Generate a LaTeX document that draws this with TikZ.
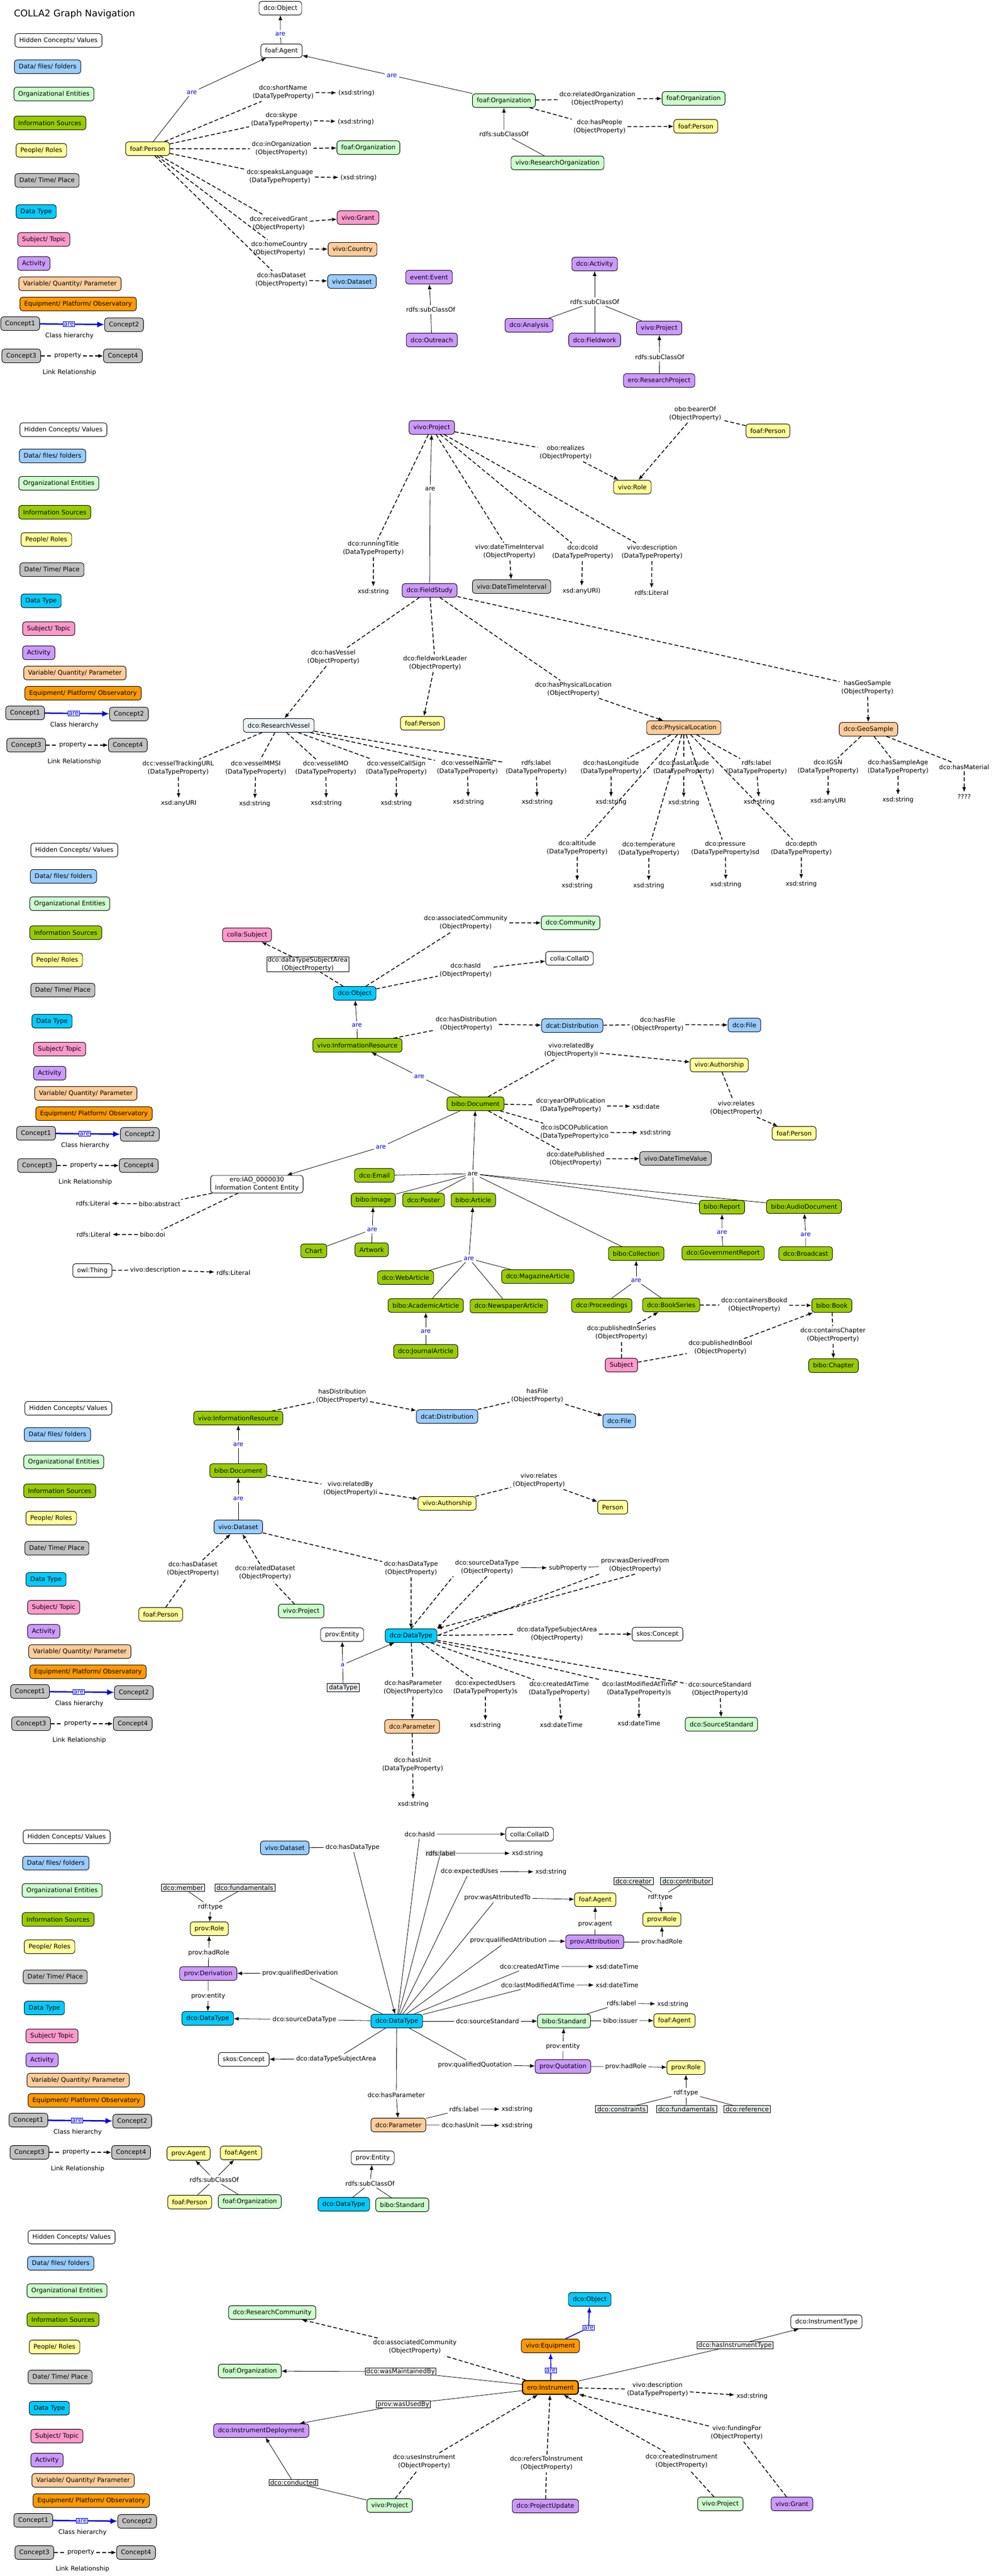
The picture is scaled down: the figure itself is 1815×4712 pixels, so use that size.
\documentclass[tikz,border=0pt]{standalone}
\usepackage{fontspec}
\setmainfont{DejaVu Sans}
\usepackage{tikz}
\usetikzlibrary{
  calc,
  positioning,
  arrows.meta,
  shapes
}
\tikzset{>={Latex[length=9pt,width=7pt]}}
\definecolor{filec}{RGB}{153,204,255}
\definecolor{orgc}{RGB}{204,255,204}
\definecolor{infoc}{RGB}{153,204,0}
\definecolor{peoplec}{RGB}{255,255,153}
\definecolor{datec}{RGB}{192,192,192}
\definecolor{dtypec}{RGB}{0,204,255}
\definecolor{subjc}{RGB}{255,153,204}
\definecolor{actc}{RGB}{204,153,255}
\definecolor{paramc}{RGB}{255,204,153}
\definecolor{equipc}{RGB}{255,153,0}
\definecolor{litec}{RGB}{236,243,246}
\definecolor{areblue}{RGB}{0,0,230}
% colour key, repeated beside every view
\newcommand{\legendblock}[3]{%
  \begin{scope}[shift={(#2,#3)}]
    \node[entity, anchor=west] (#1_hidden) at (27,74) {Hidden Concepts/ Values};
    \node[entity, fill=filec, anchor=west] (#1_files) at (26,122) {Data/ files/ folders};
    \node[entity, fill=orgc, anchor=west] (#1_orgs) at (25,172) {Organizational Entities};
    \node[entity, fill=infoc, anchor=west] (#1_info) at (25,225) {Information Sources};
    \node[entity, fill=peoplec, anchor=west] (#1_people) at (29,275) {People/ Roles};
    \node[entity, fill=datec, anchor=west] (#1_date) at (27,330) {Date/ Time/ Place};
    \node[entity, fill=dtypec, anchor=west] (#1_dtype) at (29,387) {Data Type};
    \node[entity, fill=subjc, anchor=west] (#1_subject) at (32,438) {Subject/ Topic};
    \node[entity, fill=actc, anchor=west] (#1_activity) at (32,482) {Activity};
    \node[entity, fill=paramc, anchor=west] (#1_param) at (34,519) {Variable/ Quantity/ Parameter};
    \node[entity, fill=equipc, anchor=west] (#1_equip) at (36,556) {Equipment/ Platform/ Observatory};
    \node[entity, fill=datec, anchor=west] (#1_c1) at (1,592) {Concept1};
    \node[entity, fill=datec, anchor=west] (#1_c2) at (191,594) {Concept2};
    \draw[hier] (#1_c1) -- (#1_c2) node[aretag, pos=0.45] (#1_are) {are};
    \node (#1_hier_txt) at (127,614) {Class hierarchy};
    \node[entity, fill=datec, anchor=west] (#1_c3) at (3,651) {Concept3};
    \node[entity, fill=datec, anchor=west] (#1_c4) at (189,651) {Concept4};
    \node (#1_prop) at (124,651) {property};
    \draw[property, ->] (#1_c3) -- (#1_prop) -- (#1_c4);
    \node (#1_link_txt) at (127,681) {Link Relationship};
  \end{scope}}

\begin{document}
\begin{tikzpicture}[x=1pt, y=-1pt,
  font=\fontsize{11.5}{14.5}\selectfont,
  entity/.style = {rectangle, rounded corners=5pt, draw, line width=0.9pt, fill=white, minimum height=25pt, inner xsep=8pt, align=center},
  lite/.style = {rectangle, draw, line width=0.7pt, fill=litec, inner xsep=3pt, inner ysep=2pt},
  boxed_lbl/.style = {rectangle, draw, line width=0.7pt, fill=white, inner xsep=2pt, inner ysep=1pt, align=center},
  aretag/.style = {rectangle, draw=areblue, line width=0.7pt, fill=white, text=areblue, inner sep=1pt},
  isa/.style = {text=areblue},
  plbl/.style = {align=center},
  property/.style = {line width=1.5pt, dash pattern=on 7pt off 4pt},
  subclass/.style = {line width=0.8pt},
  hier/.style = {draw=areblue, line width=2.5pt, -{Latex[length=13pt,width=11pt]}},
  bluelink/.style = {draw=areblue, line width=1.6pt, -{Latex[length=11pt,width=8pt]}}
]
\fill[white] (0,0) rectangle (1815,4712);
\useasboundingbox (0,0) rectangle (1815,4712);

% keys
\node[anchor=west, font=\fontsize{17}{20}\selectfont] (title) at (22,26) {COLLA2 Graph Navigation};
\legendblock{s1}{0}{0}
\legendblock{s2}{9}{712}
\legendblock{s3}{29}{1481}
\legendblock{s4}{18}{2502}
\legendblock{s5}{15}{3286}
\legendblock{s6}{24}{4018}

% ---------- agents and activities
\node[entity] (s1_object) at (513,15) {dco:Object};
\node[entity] (s1_agent) at (515,93) {foaf:Agent};
\node[entity, fill=peoplec] (s1_person) at (270,272) {foaf:Person};
\node[entity, fill=orgc] (s1_org) at (922,184) {foaf:Organization};
\node[isa] (s1_are1) at (513,62) {are};
\node[isa] (s1_are2) at (351,169) {are};
\node[isa] (s1_are3) at (717,138) {are};

\node[plbl] (s1_short) at (518,169) {dco:shortName\\(DataTypeProperty)};
\node (s1_v1) at (652,170) {(xsd:string)};
\node[plbl] (s1_skype) at (515,219) {dco:skype\\(DataTypeProperty)};
\node (s1_v2) at (651,223) {(xsd:string)};
\node[plbl] (s1_inorg) at (515,272) {dco:inOrganization\\(ObjectProperty)};
\node[entity, fill=orgc] (s1_org2) at (674,270) {foaf:Organization};
\node[plbl] (s1_lang) at (512,323) {dco:speaksLanguage\\(DataTypeProperty)};
\node (s1_v3) at (656,325) {(xsd:string)};
\node[plbl] (s1_grant) at (510,409) {dco:receivedGrant\\(ObjectProperty)};
\node[entity, fill=subjc] (s1_grant_box) at (655,398) {vivo:Grant};
\node[plbl] (s1_country) at (511,455) {dco:homeCountry\\(ObjectProperty)};
\node[entity, fill=paramc] (s1_country_box) at (645,456) {vivo:Country};
\node[plbl] (s1_dataset) at (515,512) {dco:hasDataset\\(ObjectProperty)};
\node[entity, fill=filec] (s1_dataset_box) at (644,515) {vivo:Dataset};

\node[plbl] (s1_relorg) at (1093,181) {dco:relatedOrganization\\(ObjectProperty)};
\node[entity, fill=orgc] (s1_org3) at (1269,180) {foaf:Organization};
\node[plbl] (s1_haspeople) at (1097,232) {dco:hasPeople\\(ObjectProperty)};
\node[entity, fill=peoplec] (s1_person2) at (1273,231) {foaf:Person};
\node (s1_sub1) at (922,245) {rdfs:subClassOf};
\node[entity, fill=orgc] (s1_resorg) at (1020,298) {vivo:ResearchOrganization};

\node[entity, fill=actc] (s1_event) at (785,507) {event:Event};
\node (s1_sub2) at (788,566) {rdfs:subClassOf};
\node[entity, fill=actc] (s1_outreach) at (790,622) {dco:Outreach};
\node[entity, fill=actc] (s1_activity) at (1088,483) {dco:Activity};
\node (s1_sub3) at (1088,552) {rdfs:subClassOf};
\node[entity, fill=actc] (s1_analysis) at (968,595) {dco:Analysis};
\node[entity, fill=actc] (s1_fieldwork) at (1088,622) {dco:Fieldwork};
\node[entity, fill=actc] (s1_project) at (1206,600) {vivo:Project};
\node (s1_sub4) at (1207,653) {rdfs:subClassOf};
\node[entity, fill=actc] (s1_resproject) at (1206,696) {ero:ResearchProject};

\draw[subclass, ->] (s1_agent) -- (s1_are1) -- (s1_object);
\draw[subclass, ->] (s1_person) -- (s1_are2) -- (s1_agent);
\draw[subclass, ->] (s1_org) -- (s1_are3) -- (s1_agent);
\draw[property, ->] (s1_person) -- (s1_short) -- (s1_v1);
\draw[property, ->] (s1_person) -- (s1_skype) -- (s1_v2);
\draw[property, ->] (s1_person) -- (s1_inorg) -- (s1_org2);
\draw[property, ->] (s1_person) -- (s1_lang) -- (s1_v3);
\draw[property, ->] (s1_person) -- (s1_grant) -- (s1_grant_box);
\draw[property, ->] (s1_person) -- (s1_country) -- (s1_country_box);
\draw[property, ->] (s1_person) -- (s1_dataset) -- (s1_dataset_box);
\draw[property, ->] (s1_org) -- (s1_relorg) -- (s1_org3);
\draw[property, ->] (s1_org) -- (s1_haspeople) -- (s1_person2);
\draw[subclass, ->] (s1_resorg) -- (s1_sub1) -- (s1_org);
\draw[subclass, ->] (s1_outreach) -- (s1_sub2) -- (s1_event);
\draw[subclass] (s1_analysis) -- (s1_sub3);
\draw[subclass] (s1_fieldwork) -- (s1_sub3);
\draw[subclass] (s1_project) -- (s1_sub3);
\draw[subclass, ->] (s1_sub3) -- (s1_activity);
\draw[subclass, ->] (s1_resproject) -- (s1_sub4) -- (s1_project);

% ---------- projects and field studies
\node[entity, fill=actc] (s2_project) at (790,782) {vivo:Project};
\node[plbl] (s2_realizes) at (1035,828) {obo:realizes\\(ObjectProperty)};
\node[entity, fill=peoplec] (s2_role) at (1157,891) {vivo:Role};
\node[plbl] (s2_bearer) at (1272,757) {obo:bearerOf\\(ObjectProperty)};
\node[entity, fill=peoplec] (s2_person) at (1405,788) {foaf:Person};
\node (s2_are) at (787,894) {are};
\node[entity, fill=actc] (s2_fieldstudy) at (786,1080) {dco:FieldStudy};
\node[plbl] (s2_title) at (683,1003) {dco:runningTitle\\(DataTypeProperty)};
\node (s2_v_title) at (683,1082) {xsd:string};
\node[plbl] (s2_dti) at (932,1009) {vivo:dateTimeInterval\\(ObjectProperty)};
\node[entity, fill=datec] (s2_dti_box) at (936,1073) {vivo:DateTimeInterval};
\node[plbl] (s2_dcoid) at (1066,1010) {dco:dcoId\\(DataTypeProperty)};
\node (s2_v_id) at (1064,1081) {xsd:anyURI)};
\node[plbl] (s2_desc) at (1193,1010) {vivo:description\\(DataTypeProperty)};
\node (s2_v_desc) at (1192,1084) {rdfs:Literal};

\node[plbl] (s2_hasvessel) at (610,1202) {dco:hasVessel\\(ObjectProperty)};
\node[entity, fill=litec] (s2_vessel) at (510,1327) {dco:ResearchVessel};
\node[plbl] (s2_leader) at (796,1213) {dco:fieldworkLeader\\(ObjectProperty)};
\node[entity, fill=peoplec] (s2_leader_box) at (773,1323) {foaf:Person};
\node[plbl] (s2_physloc) at (1049,1261) {dco:hasPhysicalLocation\\(ObjectProperty)};
\node[entity, fill=paramc] (s2_loc) at (1251,1331) {dco:PhysicalLocation};
\node[plbl] (s2_geosample) at (1587,1258) {hasGeoSample\\(ObjectProperty)};
\node[entity, fill=paramc] (s2_geo) at (1589,1334) {dco:GeoSample};

\node[plbl] (s2_track) at (326,1405) {dcc:vesselTrackingURL\\(DataTypeProperty)};
\node (s2_v_track) at (327,1469) {xsd:anyURI};
\node[plbl] (s2_mmsi) at (468,1405) {dco:vesselMMSI\\(DataTypeProperty)};
\node (s2_v_mmsi) at (466,1470) {xsd:string};
\node[plbl] (s2_imo) at (596,1405) {dco:vesselIMO\\(DataTypeProperty)};
\node (s2_v_imo) at (597,1469) {xsd:string};
\node[plbl] (s2_callsign) at (725,1405) {dco:vesselCallSign\\(DataTypeProperty)};
\node (s2_v_callsign) at (725,1469) {xsd:string};
\node[plbl] (s2_vname) at (855,1404) {dco:vesselName\\(DataTypeProperty)};
\node (s2_v_vname) at (857,1467) {xsd:string};
\node[plbl] (s2_vlabel) at (981,1404) {rdfs:label\\(DataTypeProperty)};
\node (s2_v_vlabel) at (983,1467) {xsd:string};

\node[plbl] (s2_long) at (1118,1404) {dco:hasLongitude\\(DataTypeProperty)};
\node (s2_v_long) at (1118,1467) {xsd:string};
\node[plbl] (s2_lat) at (1251,1404) {dco:hasLatitude\\(DataTypeProperty)};
\node (s2_v_lat) at (1251,1468) {xsd:string};
\node[plbl] (s2_llabel) at (1384,1404) {rdfs:label\\(DataTypeProperty)};
\node (s2_v_llabel) at (1389,1467) {xsd:string};
\node[plbl] (s2_alt) at (1056,1551) {dco:altitude\\(DataTypeProperty)};
\node (s2_v_alt) at (1056,1620) {xsd:string};
\node[plbl] (s2_temp) at (1187,1553) {dco:temperature\\(DataTypeProperty)};
\node (s2_v_temp) at (1187,1620) {xsd:string};
\node[plbl] (s2_press) at (1327,1552) {dco:pressure\\(DataTypeProperty)sd};
\node (s2_v_press) at (1328,1618) {xsd:string};
\node[plbl] (s2_depth) at (1466,1552) {dco:depth\\(DataTypeProperty)};
\node (s2_v_depth) at (1466,1617) {xsd:string};

\node[plbl] (s2_igsn) at (1515,1403) {dco:IGSN\\(DataTypeProperty)};
\node (s2_v_igsn) at (1515,1465) {xsd:anyURI};
\node[plbl] (s2_age) at (1643,1403) {dco:hasSampleAge\\(DataTypeProperty)};
\node (s2_v_age) at (1643,1463) {xsd:string};
\node (s2_material) at (1764,1403) {dco:hasMaterial};
\node (s2_v_material) at (1764,1457) {????};

\draw[property, ->] (s2_project) -- (s2_realizes) -- (s2_role);
\draw[property, ->] (s2_person) -- (s2_bearer) -- (s2_role);
\draw[subclass, ->] (s2_fieldstudy) -- (s2_are) -- (s2_project);
\draw[property, ->] (s2_project) -- (s2_title) -- (s2_v_title);
\draw[property, ->] (s2_project) -- (s2_dti) -- (s2_dti_box);
\draw[property, ->] (s2_project) -- (s2_dcoid) -- (s2_v_id);
\draw[property, ->] (s2_project) -- (s2_desc) -- (s2_v_desc);
\draw[property, ->] (s2_fieldstudy) -- (s2_hasvessel) -- (s2_vessel);
\draw[property, ->] (s2_fieldstudy) -- (s2_leader) -- (s2_leader_box);
\draw[property, ->] (s2_fieldstudy) -- (s2_physloc) -- (s2_loc);
\draw[property, ->] (s2_fieldstudy) -- (s2_geosample) -- (s2_geo);
\draw[property, ->] (s2_vessel) -- (s2_track) -- (s2_v_track);
\draw[property, ->] (s2_vessel) -- (s2_mmsi) -- (s2_v_mmsi);
\draw[property, ->] (s2_vessel) -- (s2_imo) -- (s2_v_imo);
\draw[property, ->] (s2_vessel) -- (s2_callsign) -- (s2_v_callsign);
\draw[property, ->] (s2_vessel) -- (s2_vname) -- (s2_v_vname);
\draw[property, ->] (s2_vessel) -- (s2_vlabel) -- (s2_v_vlabel);
\draw[property, ->] (s2_loc) -- (s2_long) -- (s2_v_long);
\draw[property, ->] (s2_loc) -- (s2_lat) -- (s2_v_lat);
\draw[property, ->] (s2_loc) -- (s2_llabel) -- (s2_v_llabel);
\draw[property, ->] (s2_loc) -- (s2_alt) -- (s2_v_alt);
\draw[property, ->] (s2_loc) -- (s2_temp) -- (s2_v_temp);
\draw[property, ->] (s2_loc) -- (s2_press) -- (s2_v_press);
\draw[property, ->] (s2_loc) -- (s2_depth) -- (s2_v_depth);
\draw[property, ->] (s2_geo) -- (s2_igsn) -- (s2_v_igsn);
\draw[property, ->] (s2_geo) -- (s2_age) -- (s2_v_age);
\draw[property, ->] (s2_geo) -- (s2_material) -- (s2_v_material);

% ---------- objects and documents
\node[entity, fill=dtypec] (s3_object) at (649,1817) {dco:Object};
\node[entity, fill=subjc] (s3_subject) at (452,1710) {colla:Subject};
\node[boxed_lbl] (s3_dtsa) at (563,1764) {dco:dataTypeSubjectArea\\(ObjectProperty)};
\node[plbl] (s3_assoc) at (852,1688) {dco:associatedCommunity\\(ObjectProperty)};
\node[entity, fill=orgc] (s3_community) at (1044,1688) {dco:Community};
\node[plbl] (s3_hasid) at (852,1775) {dco:hasId\\(ObjectProperty)};
\node[entity] (s3_collaid) at (1042,1753) {colla:CollaID};
\node[entity, fill=infoc] (s3_ir) at (654,1912) {vivo:InformationResource};
\node[isa] (s3_are1) at (653,1875) {are};
\node[plbl] (s3_hasdist) at (853,1873) {dco:hasDistribution\\(ObjectProperty)};
\node[entity, fill=filec] (s3_dist) at (1047,1876) {dcat:Distribution};
\node[plbl] (s3_hasfile) at (1203,1874) {dco:hasFile\\(ObjectProperty)};
\node[entity, fill=filec] (s3_file) at (1362,1875) {dco:File};
\node[entity, fill=infoc] (s3_document) at (870,2019) {bibo:Document};
\node[isa] (s3_are2) at (767,1969) {are};
\node[plbl] (s3_relby) at (1045,1921) {vivo:relatedBy\\(ObjectProperty)i};
\node[entity, fill=peoplec] (s3_authorship) at (1316,1948) {vivo:Authorship};
\node[plbl] (s3_relates) at (1347,2027) {vivo:relates\\(ObjectProperty)};
\node[entity, fill=peoplec] (s3_person) at (1453,2073) {foaf:Person};
\node[plbl] (s3_year) at (1044,2022) {dco:yearOfPublication\\(DataTypeProperty)};
\node (s3_v_year) at (1182,2024) {xsd:date};
\node[plbl] (s3_isdco) at (1051,2071) {dco:isDCOPublication\\(DataTypeProperty)co};
\node (s3_v_isdco) at (1199,2072) {xsd:string};
\node[plbl] (s3_datepub) at (1053,2120) {dco:datePublished\\(ObjectProperty)};
\node[entity, fill=datec] (s3_datevalue) at (1236,2119) {vivo:DateTimeValue};
\node[entity] (s3_iao) at (470,2166) {ero:IAO\_0000030\\Information Content Entity};
\node[isa] (s3_are3) at (697,2098) {are};
\node (s3_abstract) at (292,2202) {bibo:abstract};
\node (s3_lit1) at (170,2201) {rdfs:Literal};
\node (s3_doi) at (279,2258) {bibo:doi};
\node (s3_lit2) at (171,2258) {rdfs:Literal};
\node[entity] (s3_thing) at (169,2324) {owl:Thing};
\node (s3_desc) at (284,2323) {vivo:description};
\node (s3_lit3) at (427,2328) {rdfs:Literal};

\node (s3_hub) at (865,2147) {are};
\node[entity, fill=infoc] (s3_email) at (685,2150) {dco:Email};
\node[entity, fill=infoc] (s3_image) at (683,2195) {bibo:Image};
\node[entity, fill=infoc] (s3_poster) at (775,2195) {dco:Poster};
\node[entity, fill=infoc] (s3_article) at (866,2195) {bibo:Article};
\node[entity, fill=infoc] (s3_collection) at (1164,2293) {bibo:Collection};
\node[entity, fill=infoc] (s3_report) at (1321,2208) {bibo:Report};
\node[entity, fill=infoc] (s3_audio) at (1471,2207) {bibo:AudioDocument};
\node[isa] (s3_are4) at (681,2249) {are};
\node[entity, fill=infoc] (s3_chart) at (574,2288) {Chart};
\node[entity, fill=infoc] (s3_artwork) at (680,2286) {Artwork};
\node[isa] (s3_are5) at (858,2302) {are};
\node[entity, fill=infoc] (s3_webart) at (742,2337) {dco:WebArticle};
\node[entity, fill=infoc] (s3_magart) at (984,2335) {dco:MagazineArticle};
\node[entity, fill=infoc] (s3_acadart) at (779,2388) {bibo:AcademicArticle};
\node[entity, fill=infoc] (s3_newsart) at (931,2389) {dco:NewspaperArticle};
\node[isa] (s3_are6) at (779,2435) {are};
\node[entity, fill=infoc] (s3_journal) at (779,2472) {dco:JournalArticle};
\node[isa] (s3_are7) at (1164,2342) {are};
\node[entity, fill=infoc] (s3_proc) at (1101,2388) {dco:Proceedings};
\node[entity, fill=infoc] (s3_bookseries) at (1228,2387) {dco:BookSeries};
\node[isa] (s3_are8) at (1321,2254) {are};
\node[entity, fill=infoc] (s3_govreport) at (1323,2292) {dco:GovernmentReport};
\node[isa] (s3_are9) at (1474,2258) {are};
\node[entity, fill=infoc] (s3_broadcast) at (1474,2293) {dco:Broadcast};
\node[plbl] (s3_contbook) at (1380,2387) {dco:containersBookd\\(ObjectProperty)};
\node[entity, fill=infoc] (s3_book) at (1522,2388) {bibo:Book};
\node[plbl] (s3_contchap) at (1524,2442) {dco:containsChapter\\(ObjectProperty)};
\node[entity, fill=infoc] (s3_chapter) at (1525,2498) {bibo:Chapter};
\node[entity, fill=subjc] (s3_subject2) at (1137,2497) {Subject};
\node[plbl] (s3_pubseries) at (1137,2438) {dco:publishedInSeries\\(ObjectProperty)};
\node[plbl] (s3_pubbook) at (1318,2465) {dco:publishedInBool\\(ObjectProperty)};

\draw[property, ->] (s3_object) -- (s3_dtsa) -- (s3_subject);
\draw[property, ->] (s3_object) -- (s3_assoc) -- (s3_community);
\draw[property, ->] (s3_object) -- (s3_hasid) -- (s3_collaid);
\draw[subclass, ->] (s3_ir) -- (s3_are1) -- (s3_object);
\draw[property, ->] (s3_ir) -- (s3_hasdist) -- (s3_dist);
\draw[property, ->] (s3_dist) -- (s3_hasfile) -- (s3_file);
\draw[subclass, ->] (s3_document) -- (s3_are2) -- (s3_ir);
\draw[property, ->] (s3_document) -- (s3_relby) -- (s3_authorship);
\draw[property, ->] (s3_authorship) -- (s3_relates) -- (s3_person);
\draw[property, ->] (s3_document) -- (s3_year) -- (s3_v_year);
\draw[property, ->] (s3_document) -- (s3_isdco) -- (s3_v_isdco);
\draw[property, ->] (s3_document) -- (s3_datepub) -- (s3_datevalue);
\draw[subclass, ->] (s3_document) -- (s3_are3) -- (s3_iao);
\draw[property, ->] (s3_iao) -- (s3_abstract) -- (s3_lit1);
\draw[property, ->] (s3_iao) -- (s3_doi) -- (s3_lit2);
\draw[property, ->] (s3_thing) -- (s3_desc) -- (s3_lit3);
\draw[subclass, ->] (s3_hub) -- (s3_document);
\draw[subclass] (s3_email) -- (s3_hub);
\draw[subclass] (s3_image) -- (s3_hub);
\draw[subclass] (s3_poster) -- (s3_hub);
\draw[subclass] (s3_article) -- (s3_hub);
\draw[subclass] (s3_collection) -- (s3_hub);
\draw[subclass] (s3_report) -- (s3_hub);
\draw[subclass] (s3_audio) -- (s3_hub);
\draw[subclass] (s3_chart) -- (s3_are4);
\draw[subclass] (s3_artwork) -- (s3_are4);
\draw[subclass, ->] (s3_are4) -- (s3_image);
\draw[subclass] (s3_webart) -- (s3_are5);
\draw[subclass] (s3_magart) -- (s3_are5);
\draw[subclass] (s3_acadart) -- (s3_are5);
\draw[subclass] (s3_newsart) -- (s3_are5);
\draw[subclass, ->] (s3_are5) -- (s3_article);
\draw[subclass, ->] (s3_journal) -- (s3_are6) -- (s3_acadart);
\draw[subclass] (s3_proc) -- (s3_are7);
\draw[subclass] (s3_bookseries) -- (s3_are7);
\draw[subclass, ->] (s3_are7) -- (s3_collection);
\draw[subclass, ->] (s3_govreport) -- (s3_are8) -- (s3_report);
\draw[subclass, ->] (s3_broadcast) -- (s3_are9) -- (s3_audio);
\draw[property, ->] (s3_bookseries) -- (s3_contbook) -- (s3_book);
\draw[property, ->] (s3_book) -- (s3_contchap) -- (s3_chapter);
\draw[property, ->] (s3_subject2) -- (s3_pubseries) -- (s3_bookseries);
\draw[property, ->] (s3_subject2) -- (s3_pubbook) -- (s3_book);

% ---------- datasets and data types
\node[entity, fill=infoc] (s4_ir) at (436,2594) {vivo:InformationResource};
\node[plbl] (s4_hasdist) at (626,2554) {hasDistribution\\(ObjectProperty)};
\node[entity, fill=filec] (s4_dist) at (818,2591) {dcat:Distribution};
\node[plbl] (s4_hasfile) at (983,2553) {hasFile\\(ObjectProperty)};
\node[entity, fill=filec] (s4_file) at (1133,2599) {dco:File};
\node[isa] (s4_are1) at (436,2642) {are};
\node[entity, fill=infoc] (s4_document) at (436,2690) {bibo:Document};
\node[plbl] (s4_relby) at (641,2723) {vivo:relatedBy\\(ObjectProperty)i};
\node[entity, fill=peoplec] (s4_authorship) at (818,2750) {vivo:Authorship};
\node[plbl] (s4_relates) at (986,2708) {vivo:relates\\(ObjectProperty)};
\node[entity, fill=peoplec] (s4_person) at (1121,2757) {Person};
\node[isa] (s4_are2) at (436,2741) {are};
\node[entity, fill=filec] (s4_dataset) at (436,2793) {vivo:Dataset};
\node[plbl] (s4_hasds) at (353,2870) {dco:hasDataset\\(ObjectProperty)};
\node[entity, fill=peoplec] (s4_person2) at (294,2953) {foaf:Person};
\node[plbl] (s4_relds) at (485,2877) {dco:relatedDataset\\(ObjectProperty)};
\node[entity, fill=orgc] (s4_project) at (551,2947) {vivo:Project};
\node[plbl] (s4_hasdt) at (752,2869) {dco:hasDataType\\(ObjectProperty)};
\node[entity, fill=dtypec] (s4_dtype) at (752,2992) {dco:DataType};
\node[plbl] (s4_srcdt) at (891,2867) {dco:sourceDataType\\(ObjectProperty)};
\node (s4_subprop) at (1039,2868) {subProperty};
\node[plbl] (s4_derived) at (1162,2863) {prov:wasDerivedFrom\\(ObjectProperty)};
\node[entity] (s4_entity) at (626,2990) {prov:Entity};
\node[isa] (s4_a) at (627,3045) {a};
\node[lite] (s4_dtlite) at (628,3087) {dataType};
\node[plbl] (s4_dtsa) at (1019,2989) {dco:dataTypeSubjectArea\\(ObjectProperty)};
\node[entity] (s4_skos) at (1203,2989) {skos:Concept};
\node[plbl] (s4_haspar) at (756,3087) {dco:hasParameter\\(ObjectProperty)co};
\node[entity, fill=paramc] (s4_param) at (754,3158) {dco:Parameter};
\node[plbl] (s4_expusers) at (888,3087) {dco:expectedUsers\\(DataTypeProperty)s};
\node (s4_v_users) at (888,3156) {xsd:string};
\node[plbl] (s4_created) at (1023,3089) {dco:createdAtTime\\(DataTypeProperty)};
\node (s4_v_created) at (1027,3155) {xsd:dateTime};
\node[plbl] (s4_modified) at (1169,3089) {dco:lastModifiedAtTime\\(DataTypeProperty)s};
\node (s4_v_modified) at (1169,3152) {xsd:dateTime};
\node[plbl] (s4_srcstd) at (1317,3090) {dco:sourceStandard\\(ObjectProperty)d};
\node[entity, fill=orgc] (s4_stdbox) at (1320,3154) {dco:SourceStandard};
\node[plbl] (s4_hasunit) at (755,3228) {dco:hasUnit\\(DataTypeProperty)};
\node (s4_v_unit) at (756,3300) {xsd:string};

\draw[property, ->] (s4_ir) -- (s4_hasdist) -- (s4_dist);
\draw[property, ->] (s4_dist) -- (s4_hasfile) -- (s4_file);
\draw[subclass, ->] (s4_document) -- (s4_are1) -- (s4_ir);
\draw[property, ->] (s4_document) -- (s4_relby) -- (s4_authorship);
\draw[property, ->] (s4_authorship) -- (s4_relates) -- (s4_person);
\draw[subclass, ->] (s4_dataset) -- (s4_are2) -- (s4_document);
\draw[property, ->] (s4_person2) -- (s4_hasds) -- (s4_dataset);
\draw[property, ->] (s4_project) -- (s4_relds) -- (s4_dataset);
\draw[property, ->] (s4_dataset) -- (s4_hasdt) -- (s4_dtype);
\draw[property] (s4_dtype.north) -- (s4_srcdt.south west);
\draw[property, ->] (s4_srcdt.south) -- (s4_dtype.north east);
\draw[subclass, ->] (s4_srcdt) -- (s4_subprop);
\draw[subclass] (s4_subprop) -- (s4_derived);
\draw[property] (s4_derived.south west) -- (s4_dtype.east);
\draw[property, ->] (s4_derived.south) -- (s4_dtype.north east);
\draw[property, ->] (s4_dtype) -- (s4_dtsa) -- (s4_skos);
\draw[subclass] (s4_dtlite) -- (s4_a);
\draw[subclass, ->] (s4_a) -- (s4_entity);
\draw[subclass, ->] (s4_a) -- (s4_dtype);
\draw[property, ->] (s4_dtype) -- (s4_haspar) -- (s4_param);
\draw[property, ->] (s4_dtype) -- (s4_expusers) -- (s4_v_users);
\draw[property, ->] (s4_dtype) -- (s4_created) -- (s4_v_created);
\draw[property, ->] (s4_dtype) -- (s4_modified) -- (s4_v_modified);
\draw[property, ->] (s4_dtype) -- (s4_srcstd) -- (s4_stdbox);
\draw[property, ->] (s4_param) -- (s4_hasunit) -- (s4_v_unit);

% ---------- data type provenance
\node[entity, fill=filec] (s5_dataset) at (521,3380) {vivo:Dataset};
\node (s5_hasdt) at (645,3379) {dco:hasDataType};
\node[entity, fill=dtypec] (s5_dtype) at (726,3697) {dco:DataType};
\node (s5_hasid) at (768,3355) {dco:hasId};
\node[entity] (s5_collaid) at (969,3355) {colla:CollaID};
\node[fill=gray!30, inner sep=1pt] (s5_label) at (806,3390) {rdfs:label};
\node (s5_v_label) at (965,3390) {xsd:string};
\node (s5_expuses) at (859,3423) {dco:expectedUses};
\node (s5_v_uses) at (1008,3424) {xsd:string};
\node (s5_attrto) at (910,3471) {prov:wasAttributedTo};
\node[entity, fill=peoplec] (s5_agent1) at (1089,3475) {foaf:Agent};
\node (s5_qattr) at (930,3549) {prov:qualifiedAttribution};
\node[entity, fill=actc] (s5_attr) at (1088,3552) {prov:Attribution};
\node (s5_provagent) at (1089,3520) {prov:agent};
\node (s5_hadrole1) at (1211,3552) {prov:hadRole};
\node[entity, fill=peoplec] (s5_role1) at (1211,3511) {prov:Role};
\node[lite] (s5_creator) at (1159,3441) {dco:creator};
\node[lite] (s5_contrib) at (1256,3441) {dco:contributor};
\node (s5_rdftype1) at (1208,3470) {rdf:type};
\node (s5_created) at (969,3597) {dco:createdAtTime};
\node (s5_v_created) at (1129,3597) {xsd:dateTime};
\node (s5_modified) at (984,3631) {dco:lastModifiedAtTime};
\node (s5_v_modified) at (1129,3631) {xsd:dateTime};
\node (s5_srcstd) at (892,3697) {dco:sourceStandard};
\node[entity, fill=orgc] (s5_standard) at (1032,3697) {bibo:Standard};
\node (s5_stlabel) at (1137,3664) {rdfs:label};
\node (s5_v_stlabel) at (1231,3666) {xsd:string};
\node (s5_issuer) at (1135,3696) {bibo:issuer};
\node[entity, fill=peoplec] (s5_agent2) at (1234,3696) {foaf:Agent};
\node (s5_entity1) at (1030,3743) {prov:entity};
\node[entity, fill=actc] (s5_quot) at (1030,3780) {prov:Quotation};
\node (s5_qquot) at (869,3777) {prov:qualifiedQuotation};
\node (s5_hadrole2) at (1145,3780) {prov:hadRole};
\node[entity, fill=peoplec] (s5_role2) at (1255,3782) {prov:Role};
\node (s5_rdftype2) at (1255,3828) {rdf:type};
\node[lite] (s5_constraints) at (1137,3858) {dco:constraints};
\node[lite] (s5_fund2) at (1256,3858) {dco:fundamentals};
\node[lite] (s5_reference) at (1367,3858) {dco:reference};
\node (s5_qderiv) at (549,3609) {prov:qualifiedDerivation};
\node[entity, fill=actc] (s5_deriv) at (381,3610) {prov:Derivation};
\node (s5_hadrole0) at (382,3572) {prov:hadRole};
\node[entity, fill=peoplec] (s5_role0) at (383,3528) {prov:Role};
\node (s5_rdftype0) at (385,3488) {rdf:type};
\node[lite] (s5_member) at (335,3453) {dco:member};
\node[lite] (s5_fund0) at (448,3453) {dco:fundamentals};
\node (s5_entity0) at (381,3651) {prov:entity};
\node[entity, fill=dtypec] (s5_dtype2) at (380,3692) {dco:DataType};
\node (s5_srcdt) at (557,3694) {dco:sourceDataType};
\node (s5_dtsa) at (615,3766) {dco:dataTypeSubjectArea};
\node[entity] (s5_skos) at (446,3767) {skos:Concept};
\node (s5_haspar) at (725,3832) {dco:hasParameter};
\node[entity, fill=paramc] (s5_param) at (729,3887) {dco:Parameter};
\node (s5_plabel) at (849,3858) {rdfs:label};
\node (s5_v_plabel) at (946,3858) {xsd:string};
\node (s5_unit) at (842,3887) {dco:hasUnit};
\node (s5_v_unit) at (946,3888) {xsd:string};

\node[entity, fill=peoplec] (s5_provagent2) at (345,3939) {prov:Agent};
\node[entity, fill=peoplec] (s5_foafagent) at (441,3938) {foaf:Agent};
\node (s5_sub1) at (392,3987) {rdfs:subClassOf};
\node[entity, fill=peoplec] (s5_person) at (347,4028) {foaf:Person};
\node[entity, fill=orgc] (s5_org) at (457,4027) {foaf:Organization};
\node[entity] (s5_entity2) at (682,3947) {prov:Entity};
\node (s5_sub2) at (677,3994) {rdfs:subClassOf};
\node[entity, fill=dtypec] (s5_dtype3) at (629,4032) {dco:DataType};
\node[entity, fill=orgc] (s5_standard2) at (736,4033) {bibo:Standard};

\draw[subclass, ->] (s5_dataset) -- (s5_hasdt) -- (s5_dtype);
\draw[subclass, ->] (s5_dtype) -- (s5_hasid) -- (s5_collaid);
\draw[subclass, ->] (s5_dtype) -- (s5_label) -- (s5_v_label);
\draw[subclass, ->] (s5_dtype) -- (s5_expuses) -- (s5_v_uses);
\draw[subclass, ->] (s5_dtype) -- (s5_attrto) -- (s5_agent1);
\draw[subclass, ->] (s5_dtype) -- (s5_qattr) -- (s5_attr);
\draw[subclass, ->] (s5_attr) -- (s5_provagent) -- (s5_agent1);
\draw[subclass, ->] (s5_attr) -- (s5_hadrole1) -- (s5_role1);
\draw[subclass] (s5_creator) -- (s5_rdftype1);
\draw[subclass] (s5_contrib) -- (s5_rdftype1);
\draw[subclass, ->] (s5_rdftype1) -- (s5_role1);
\draw[subclass, ->] (s5_dtype) -- (s5_created) -- (s5_v_created);
\draw[subclass, ->] (s5_dtype) -- (s5_modified) -- (s5_v_modified);
\draw[subclass, ->] (s5_dtype) -- (s5_srcstd) -- (s5_standard);
\draw[subclass, ->] (s5_standard) -- (s5_stlabel) -- (s5_v_stlabel);
\draw[subclass, ->] (s5_standard) -- (s5_issuer) -- (s5_agent2);
\draw[subclass, ->] (s5_quot) -- (s5_entity1) -- (s5_standard);
\draw[subclass, ->] (s5_dtype) -- (s5_qquot) -- (s5_quot);
\draw[subclass, ->] (s5_quot) -- (s5_hadrole2) -- (s5_role2);
\draw[subclass] (s5_constraints) -- (s5_rdftype2);
\draw[subclass] (s5_fund2) -- (s5_rdftype2);
\draw[subclass] (s5_reference) -- (s5_rdftype2);
\draw[subclass, ->] (s5_rdftype2) -- (s5_role2);
\draw[subclass, ->] (s5_dtype) -- (s5_qderiv) -- (s5_deriv);
\draw[subclass, ->] (s5_deriv) -- (s5_hadrole0) -- (s5_role0);
\draw[subclass] (s5_member) -- (s5_rdftype0);
\draw[subclass] (s5_fund0) -- (s5_rdftype0);
\draw[subclass, ->] (s5_rdftype0) -- (s5_role0);
\draw[subclass, ->] (s5_deriv) -- (s5_entity0) -- (s5_dtype2);
\draw[subclass, ->] (s5_dtype) -- (s5_srcdt) -- (s5_dtype2);
\draw[subclass, ->] (s5_dtype) -- (s5_dtsa) -- (s5_skos);
\draw[subclass, ->] (s5_dtype) -- (s5_haspar) -- (s5_param);
\draw[subclass, ->] (s5_param) -- (s5_plabel) -- (s5_v_plabel);
\draw[subclass, ->] (s5_param) -- (s5_unit) -- (s5_v_unit);
\draw[subclass, ->] (s5_person) -- (s5_sub1) -- (s5_foafagent);
\draw[subclass, ->] (s5_org) -- (s5_sub1) -- (s5_provagent2);
\draw[subclass] (s5_dtype3) -- (s5_sub2);
\draw[subclass] (s5_standard2) -- (s5_sub2);
\draw[subclass, ->] (s5_sub2) -- (s5_entity2);

% ---------- instruments
\node[entity, fill=dtypec] (s6_object) at (1079,4206) {dco:Object};
\node[entity, fill=equipc] (s6_equip) at (1007,4291) {vivo:Equipment};
\node[aretag] (s6_are1) at (1077,4258) {are};
\node[entity, fill=equipc, line width=2pt] (s6_instrument) at (1007,4367) {ero:Instrument};
\node[aretag] (s6_are2) at (1008,4336) {are};
\node[entity, fill=orgc] (s6_community) at (498,4230) {dco:ResearchCommunity};
\node[plbl] (s6_assoc) at (759,4293) {dco:associatedCommunity\\(ObjectProperty)};
\node[entity, fill=orgc] (s6_org) at (457,4337) {foaf:Organization};
\node[boxed_lbl] (s6_maint) at (733,4338) {dco:wasMaintainedBy};
\node[boxed_lbl] (s6_insttype_tag) at (1345,4290) {dco:hasInstrumentType};
\node[entity] (s6_insttype) at (1512,4247) {dco:InstrumentType};
\node[boxed_lbl] (s6_usedby) at (738,4398) {prov:wasUsedBy};
\node[entity, fill=actc] (s6_deploy) at (478,4446) {dco:InstrumentDeployment};
\node[boxed_lbl] (s6_conducted) at (537,4541) {dco:conducted};
\node[entity, fill=orgc] (s6_project1) at (713,4583) {vivo:Project};
\node[plbl] (s6_uses) at (776,4503) {dco:usesInstrument\\(ObjectProperty)};
\node[entity, fill=actc] (s6_update) at (998,4584) {dco:ProjectUpdate};
\node[plbl] (s6_refers) at (1000,4506) {dco:refersToInstrument\\(ObjectProperty)};
\node[entity, fill=orgc] (s6_project2) at (1318,4580) {vivo:Project};
\node[plbl] (s6_created) at (1247,4502) {dco:createdInstrument\\(ObjectProperty)};
\node[entity, fill=actc] (s6_grant) at (1449,4580) {vivo:Grant};
\node[plbl] (s6_funding) at (1348,4450) {vivo:fundingFor\\(ObjectProperty)};
\node[plbl] (s6_desc) at (1203,4371) {vivo:description\\(DataTypeProperty)};
\node (s6_v_desc) at (1376,4383) {xsd:string};

\draw[bluelink] (s6_equip) -- (s6_are1) -- (s6_object);
\draw[bluelink] (s6_instrument) -- (s6_are2) -- (s6_equip);
\draw[property, ->] (s6_instrument) -- (s6_assoc) -- (s6_community);
\draw[subclass, ->] (s6_instrument) -- (s6_maint) -- (s6_org);
\draw[subclass, ->] (s6_instrument) -- (s6_insttype_tag) -- (s6_insttype);
\draw[subclass, ->] (s6_instrument) -- (s6_usedby) -- (s6_deploy);
\draw[subclass, ->] (s6_project1) -- (s6_conducted) -- (s6_deploy);
\draw[property, ->] (s6_project1) -- (s6_uses) -- (s6_instrument);
\draw[property, ->] (s6_update) -- (s6_refers) -- (s6_instrument);
\draw[property, ->] (s6_project2) -- (s6_created) -- (s6_instrument);
\draw[property, ->] (s6_grant) -- (s6_funding) -- (s6_instrument);
\draw[property, ->] (s6_instrument) -- (s6_desc) -- (s6_v_desc);
\end{tikzpicture}
\end{document}
